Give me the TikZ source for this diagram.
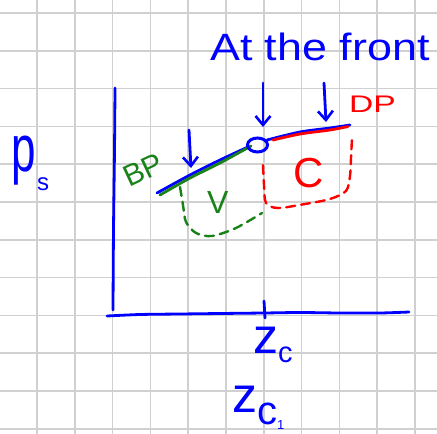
\documentclass[tikz,border=0pt]{standalone}
\usepackage{fontspec}
\setmainfont{Liberation Sans}
\usepackage{graphicx}
\usetikzlibrary{arrows.meta,shapes.geometric}
\definecolor{penblue}{RGB}{0,0,255}
\definecolor{pengreen}{RGB}{25,130,25}
\definecolor{penred}{RGB}{255,0,0}
\definecolor{gridgray}{RGB}{208,208,208}
\begin{document}
\begin{tikzpicture}[x=1pt,y=-1pt,
  pen/.style={line width=2.8pt,line cap=round,line join=round},
  gridline/.style={gridgray,line width=1.5pt},
  dashpen/.style={pen,line width=2.4pt,dash pattern=on 9pt off 6pt},
  downarrow/.style={pen,penblue,-{Straight Barb[length=9pt,width=15pt,line width=2.6pt]}},
  lbl/.style={inner sep=0pt,anchor=base west}]
\clip (0,0) rectangle (437,434);
\fill[white] (0,0) rectangle (437,434);
% grid
\foreach \i in {0,...,11} {
  \draw[gridline] ({-0.8+37.8*\i},0) -- ({-0.8+37.8*\i},434);
  \draw[gridline] (0,{13+37.8*\i}) -- (437,{13+37.8*\i});
}
% axes
\draw[pen,penblue] plot[smooth] coordinates {(115,88) (114.5,150) (113.5,230) (113,310)};
\draw[pen,penblue] plot[smooth] coordinates {(107,316) (140,314.5) (180,314) (220,313.5) (264,313) (300,312.5) (340,313) (380,313) (409,312)};
\coordinate (tickTop) at (264,301);
\coordinate (tickBot) at (265,318);
\draw[pen,penblue] (tickTop) -- (tickBot);
% labels
\node[lbl,penblue] (title) at (210,60) {\scalebox{1.18}[1]{\fontsize{38}{38}\selectfont At the front}};
\node[lbl,penblue] (zc) at (253,353) {\fontsize{50}{50}\selectfont z\raisebox{-9pt}{\fontsize{29}{29}\selectfont c}};
\node[lbl,penblue] (zc1) at (232,412) {\fontsize{50}{50}\selectfont z\raisebox{-12pt}{\fontsize{40}{40}\selectfont c\raisebox{-5pt}{\fontsize{13}{13}\selectfont 1}}};
\node[lbl,penblue] (psp) at (11,171) {\scalebox{1}[1.5]{\fontsize{44}{44}\selectfont p}};
\node[lbl,penblue] (pss) at (37,190) {\fontsize{24}{24}\selectfont s};
% dashed regions
\draw[dashpen,pengreen] plot[smooth] coordinates {(180,187) (183,205) (186,222) (196,233) (212,236) (236,228) (262,213)};
\draw[dashpen,penred] plot[smooth] coordinates {(263,165) (264,185) (266,203) (278,208) (305,204) (330,199) (346,191) (350,176) (351,158) (352,138)};
% surface curve
\draw[pen,penblue] plot[smooth] coordinates {(157,193) (190,175) (220,160) (248,147)};
\draw[pen,penblue] plot[smooth] coordinates {(267,140) (300,132) (330,128) (350,125)};
\draw[pen,pengreen] plot[smooth] coordinates {(160,195) (190,178) (220,163) (251,146)};
\draw[pen,penred] plot[smooth] coordinates {(273,140) (300,134) (330,130) (348,126.5)};
\node[draw=penblue,line width=3pt,ellipse,minimum width=20pt,minimum height=14pt,inner sep=0pt] (front) at (257.5,145) {};
% arrows
\coordinate (a1s) at (189,130); \coordinate (a1e) at (191,168);
\coordinate (a2s) at (263,83);  \coordinate (a2e) at (263,127);
\coordinate (a3s) at (324,83);  \coordinate (a3e) at (326,122);
\draw[downarrow] (a1s) -- (a1e);
\draw[downarrow] (a2s) -- (a2e);
\draw[downarrow] (a3s) -- (a3e);
% region labels
\node[pengreen,inner sep=0pt,rotate=25] (BP) at (143,170) {\fontsize{30}{30}\selectfont BP};
\node[lbl,penred] (DP) at (349,112) {\scalebox{1.4}[1]{\fontsize{24}{24}\selectfont DP}};
\node[lbl,pengreen] (V) at (207,213) {\fontsize{32}{32}\selectfont V};
\node[lbl,penred] (C) at (293,187) {\fontsize{42}{42}\selectfont C};
\end{tikzpicture}
\end{document}
